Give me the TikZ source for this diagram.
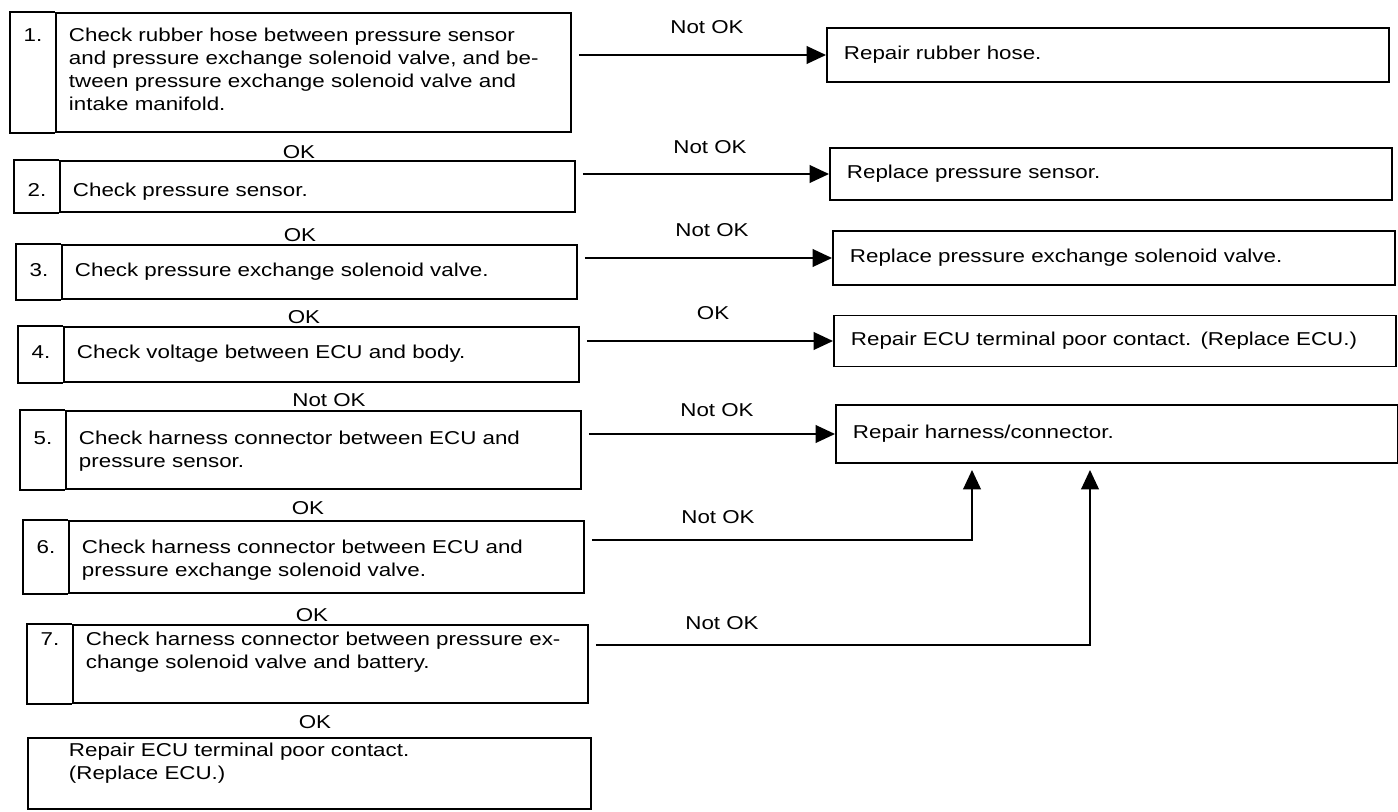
\documentclass[tikz,border=0pt]{standalone}
\usepackage{fontspec}
\setmainfont{Liberation Sans}[FakeStretch=1.2]
\usetikzlibrary{arrows.meta}

\tikzset{
  stepbox/.style={draw, line width=1.1pt, anchor=north west, text width=9.78cm,
    inner xsep=0.26cm, inner ysep=0pt, align=left},
  fixbox/.style={draw, line width=1.1pt, anchor=west, text width=10.56cm,
    inner xsep=0.34cm, align=left},
  numcell/.style={line width=1.1pt},
  lbl/.style={inner sep=1pt},
  flow/.style={line width=1.1pt, -{Triangle[length=11pt,width=10pt]}},
}

\begin{document}
\begin{tikzpicture}[x=0.02cm, y=-0.02cm, font=\fontsize{10.6}{13}\selectfont]
	\useasboundingbox (0,0) rectangle (1398,811);

	% checks, left column
	\node[stepbox, text height=0.58cm, text depth=1.8cm] (s1) at (55,12)
	{Check rubber hose between pressure sensor\\
	and pressure exchange solenoid valve, and be-\\
	tween pressure exchange solenoid valve and\\
	intake manifold.};
	\node[stepbox, text height=0.72cm, text depth=0.3cm] (s2) at (59,160)
	{Check pressure sensor.};
	\node[stepbox, text height=0.64cm, text depth=0.44cm] (s3) at (61,244)
	{Check pressure exchange solenoid valve.};
	\node[stepbox, text height=0.64cm, text depth=0.46cm] (s4) at (63,326)
	{Check voltage between ECU and body.};
	\node[stepbox, text height=0.68cm, text depth=0.88cm] (s5) at (65,410)
	{Check harness connector between ECU and\\ pressure sensor.};
	\node[stepbox, text height=0.66cm, text depth=0.78cm] (s6) at (68,520)
	{Check harness connector between ECU and\\ pressure exchange solenoid valve.};
	\node[stepbox, text height=0.42cm, text depth=1.14cm] (s7) at (72,624)
	{Check harness connector between pressure ex-\\ change solenoid valve and battery.};
	\node[stepbox, text width=9.62cm, inner xsep=0.82cm, text height=0.38cm,
	  text depth=1.04cm] (fin) at (27,737)
	{Repair ECU terminal poor contact.\\ (Replace ECU.)};

	% number cells
	\foreach \s in {1,...,7} {
		\draw[numcell] (s\s.north west) -- ++(-45,0) |- (s\s.south west);
		\node[anchor=base] (n\s) at ([xshift=-0.44cm]s\s.base west) {\s.};
	}

	% repairs, right column
	\node[fixbox, minimum height=1.08cm] (r1) at (826,55) {Repair rubber hose.};
	\node[fixbox, minimum height=1.04cm] (r2) at (829,174) {Replace pressure sensor.};
	\node[fixbox, minimum height=1.08cm] (r3) at (832,258) {Replace pressure exchange solenoid valve.};
	\node[fixbox, minimum height=1.02cm] (r4) at (833,341) {Repair ECU terminal poor contact. (Replace ECU.)};
	\node[fixbox, minimum height=1.16cm] (r5) at (835,434) {Repair harness/connector.};

	% results going down
	\node[lbl] (d1) at (299,152) {OK};
	\node[lbl] (d2) at (300,235) {OK};
	\node[lbl] (d3) at (304,317) {OK};
	\node[lbl] (d4) at (329,400) {Not OK};
	\node[lbl] (d5) at (308,508) {OK};
	\node[lbl] (d6) at (312,615) {OK};
	\node[lbl] (d7) at (315,722) {OK};

	% results going right
	\node[lbl] (a1) at (707,27) {Not OK};
	\node[lbl] (a2) at (710,147) {Not OK};
	\node[lbl] (a3) at (712,230) {Not OK};
	\node[lbl] (a4) at (713,313) {OK};
	\node[lbl] (a5) at (717,410) {Not OK};
	\node[lbl] (a6) at (718,517) {Not OK};
	\node[lbl] (a7) at (722,623) {Not OK};

	\foreach \s in {1,...,5}
		\draw[flow] ([xshift=0.14cm]s\s.east |- r\s.west) -- (r\s.west);

	\coordinate (j6) at (972,540);
	\coordinate (j7) at (1090,645);
	\draw[flow] ([xshift=0.14cm]s6.east |- j6) -- (j6) -- ([yshift=-0.12cm]j6 |- r5.south);
	\draw[flow] ([xshift=0.14cm]s7.east |- j7) -- (j7) -- ([yshift=-0.12cm]j7 |- r5.south);
\end{tikzpicture}
\end{document}
